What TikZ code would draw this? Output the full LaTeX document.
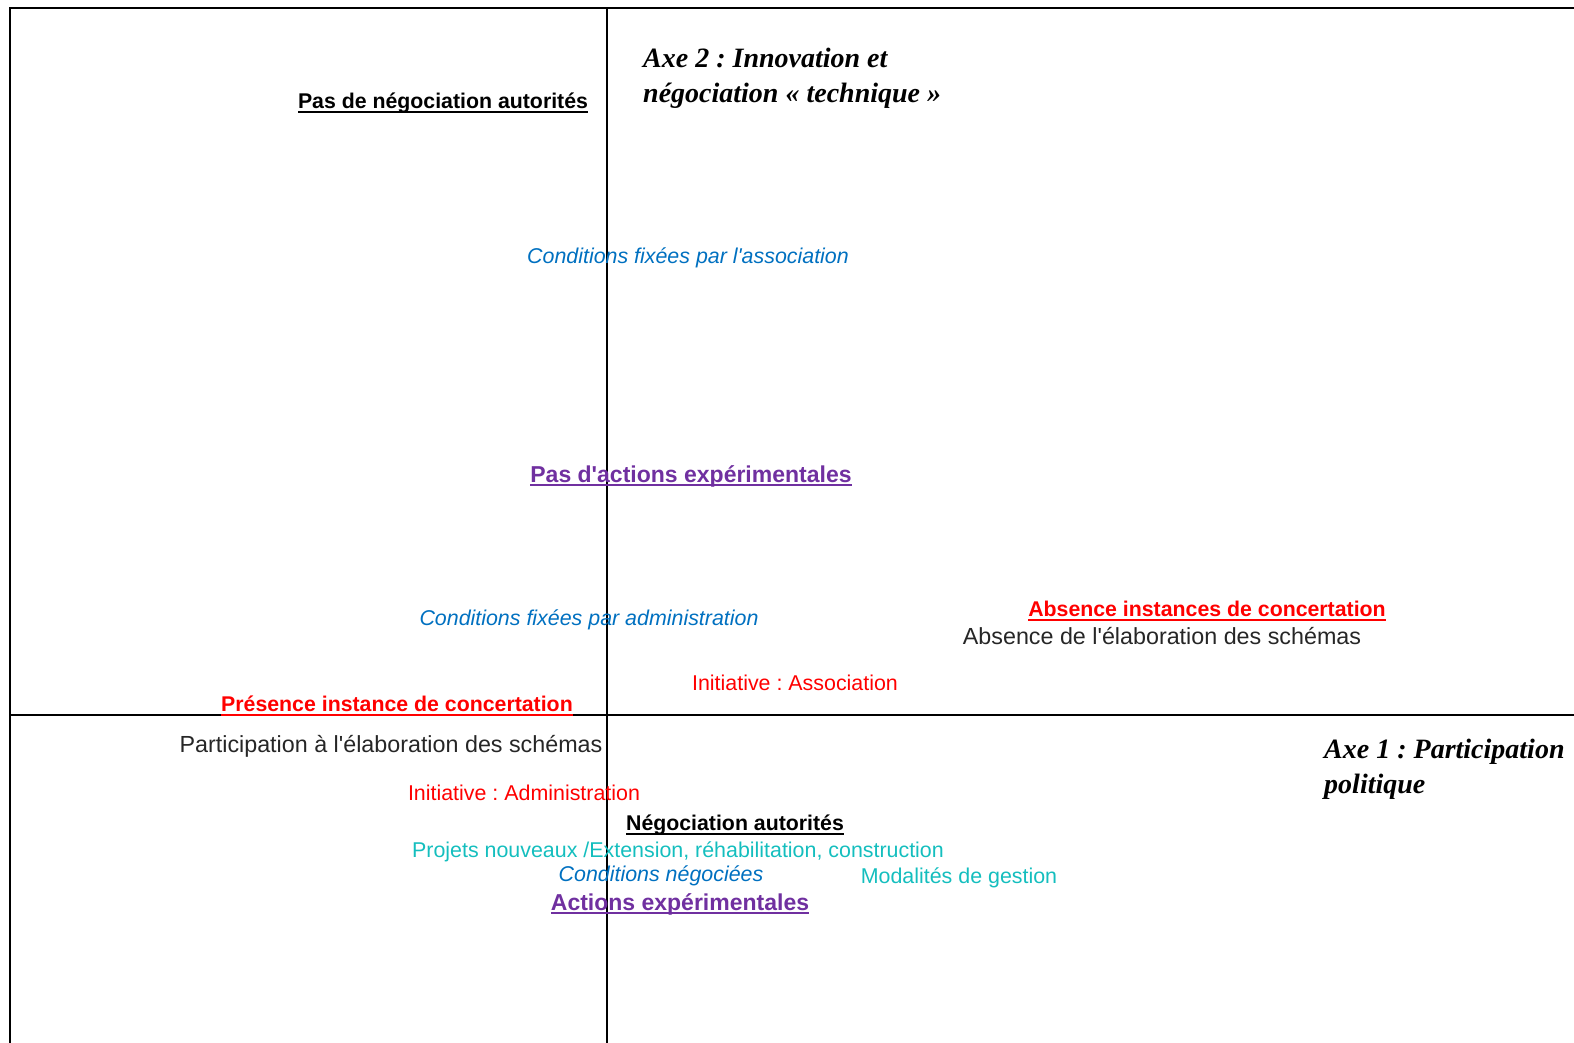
\documentclass[tikz,border=0pt]{standalone}
\usepackage{fontspec}
\setmainfont{Liberation Sans}
\newfontfamily\tnr{Liberation Serif}
\frenchspacing
\newsavebox\myulbox
\newcommand\myul[1]{\sbox\myulbox{#1}\rlap{\vrule width\wd\myulbox height -2.4pt depth 4.2pt}\usebox\myulbox}
\newcommand\q{\textquotesingle}
\definecolor{cblue}{RGB}{0,112,192}
\definecolor{cpurple}{RGB}{112,48,160}
\definecolor{cred}{RGB}{255,0,0}
\definecolor{cteal}{RGB}{20,190,190}
\definecolor{cdark}{RGB}{38,38,38}
\begin{document}
\begin{tikzpicture}[x=1pt,y=-1pt,
  lab/.style={inner sep=0pt,anchor=center,font=\frenchspacing\fontsize{21.4}{24}\selectfont},
  big/.style={font=\frenchspacing\fontsize{23.3}{26}\selectfont},
  bld/.style={font=\frenchspacing\bfseries\fontsize{21.3}{24}\selectfont},
  bldbig/.style={font=\frenchspacing\bfseries\fontsize{23}{26}\selectfont},
  itl/.style={font=\frenchspacing\itshape\fontsize{21.4}{24}\selectfont},
  axe/.style={inner sep=0pt,anchor=west,align=left,font=\frenchspacing\tnr\bfseries\itshape\fontsize{28}{35}\selectfont},
  axis/.style={line width=1.5pt}]
\useasboundingbox (0,0) rectangle (1574,1043);
\coordinate (tl) at (10,8);
\coordinate (tr) at (1574,8);
\coordinate (bl) at (10,1043);
\coordinate (vt) at (607,8);
\coordinate (vb) at (607,1043);
\coordinate (hl) at (10,715);
\coordinate (hr) at (1574,715);
\draw[axis] (bl) -- (tl) -- (tr);
\draw[axis] (vt) -- (vb);
\draw[axis] (hl) -- (hr);

\node[axe] (axe2) at (643,78) {Axe 2 : Innovation et\\négociation « technique »};
\node[axe] (axe1) at (1324,769) {Axe 1 : Participation\\politique};

\node[lab,bld] (pasneg) at (443,103) {\myul{Pas de négociation autorités}};
\node[lab,itl,text=cblue] (condasso) at (688,258) {Conditions fixées par l\q association};
\node[lab,bldbig,text=cpurple] (pasact) at (691,476) {\myul{Pas d\q actions expérimentales}};
\node[lab,itl,text=cblue] (condadm) at (589,620) {Conditions fixées par administration};
\node[lab,bld,text=cred] (absinst) at (1207,611) {\myul{Absence instances de concertation}};
\node[lab,big,text=cdark] (abselab) at (1162,636) {Absence de l\q élaboration des schémas};
\node[lab,text=cred] (initasso) at (795,683) {Initiative : Association};
\node[lab,bld,text=cred] (presinst) at (397,706) {\myul{Présence instance de concertation}};
\node[lab,big,text=cdark] (partelab) at (391,746) {Participation à l\q élaboration des schémas};
\node[lab,text=cred] (initadm) at (524,793) {Initiative : Administration};
\node[lab,bld] (negaut) at (735,825) {\myul{Négociation autorités}};
\node[lab,text=cteal] (projets) at (678,852) {Projets nouveaux /Extension, réhabilitation, construction};
\node[lab,itl,text=cblue] (condneg) at (661,876) {Conditions négociées};
\node[lab,text=cteal] (modal) at (959,878) {Modalités de gestion};
\node[lab,bldbig,text=cpurple] (actexp) at (680,904) {\myul{Actions expérimentales}};
\end{tikzpicture}
\end{document}
